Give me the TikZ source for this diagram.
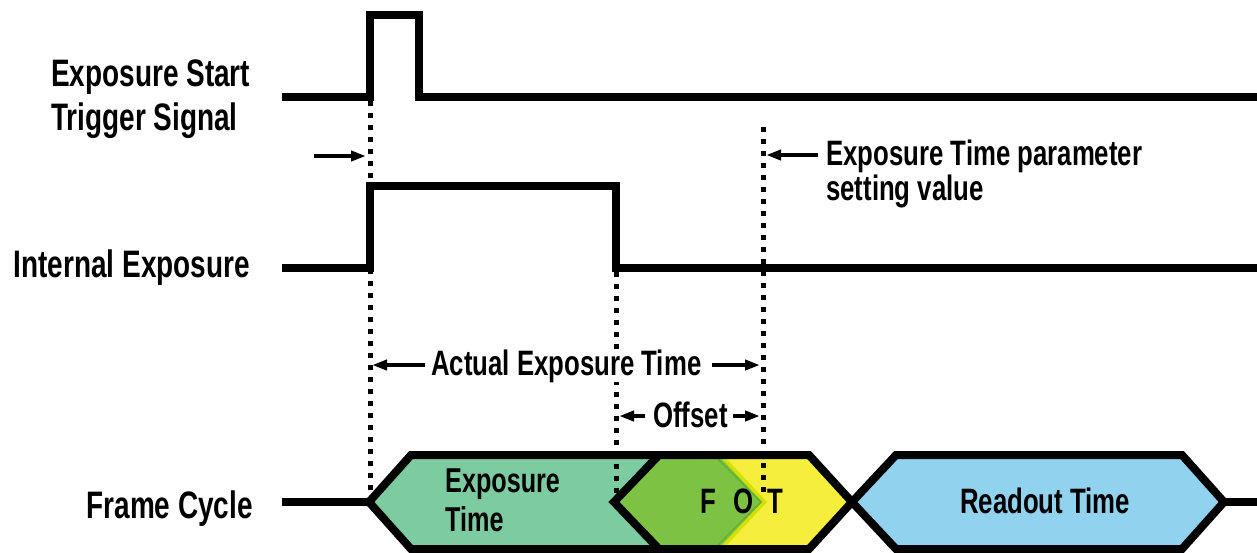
\documentclass[tikz,border=0pt]{standalone}
\usepackage{fontspec}
\setmainfont{Liberation Sans}[UprightFont={* Bold}, FakeStretch=0.73]
\usetikzlibrary{arrows.meta}
\definecolor{expcol}{RGB}{125,203,160}
\definecolor{fotgreen}{RGB}{125,194,66}
\definecolor{fotdark}{RGB}{100,178,50}
\definecolor{fotband}{RGB}{212,224,0}
\definecolor{fotyellow}{RGB}{246,238,60}
\definecolor{readcol}{RGB}{145,210,238}
\begin{document}
\begin{tikzpicture}[x=1pt,y=-1pt,
  sig/.style={line width=8pt, line join=miter},
  hexline/.style={line width=8pt, line join=miter},
  dots/.style={line width=5pt, dash pattern=on 5pt off 7pt},
  arr/.style={line width=4pt, -{Triangle[length=15pt,width=10pt]}},
  lab/.style={inner sep=0pt, font=\fontsize{38.3}{43.3}\selectfont},
  txt/.style={inner sep=0pt, font=\fontsize{35.3}{35}\selectfont}]
\useasboundingbox (0,0) rectangle (1257,552);

% signal coordinates
\coordinate (t0) at (282,97);
\coordinate (t1) at (370,97);
\coordinate (t2) at (370,15);
\coordinate (t3) at (419,15);
\coordinate (t4) at (419,97);
\coordinate (t5) at (1257,97);
\coordinate (i0) at (282,268);
\coordinate (i1) at (370,268);
\coordinate (i2) at (370,186);
\coordinate (i3) at (616,186);
\coordinate (i4) at (616,268);
\coordinate (i5) at (1257,268);

\draw[sig] (t0) -- (t1) -- (t2) -- (t3) -- (t4) -- (t5);
\draw[sig] (i0) -- (i1) -- (i2) -- (i3) -- (i4) -- (i5);

% frame cycle
\coordinate (f0) at (282,502);
\coordinate (eL) at (369,502);
\coordinate (eTL) at (411,455);
\coordinate (eTR) at (700,455);
\coordinate (eR) at (745,502);
\coordinate (eBR) at (700,549);
\coordinate (eBL) at (411,549);

\fill[expcol] (eL) -- (eTL) -- (eTR) -- (eR) -- (eBR) -- (eBL) -- cycle;
\draw[hexline] (f0) -- (eL);
\draw[hexline] (eBR) -- (eBL) -- (eL) -- (eTL) -- (eTR);

\coordinate (oL) at (614,502);
\coordinate (oTL) at (659,455);
\coordinate (oTR) at (809,455);
\coordinate (oR) at (852,502);
\coordinate (oBR) at (809,549);
\coordinate (oBL) at (659,549);
\fill[fotyellow] (oL) -- (oTL) -- (oTR) -- (oR) -- (oBR) -- (oBL) -- cycle;
\fill[fotband] (oL) -- (oTL) -- (723,455) -- (767,502) -- (723,549) -- (oBL) -- cycle;
\fill[fotgreen] (oL) -- (oTL) -- (718,455) -- (762,502) -- (718,549) -- (oBL) -- cycle;
\draw[fotdark, line width=1.5pt] (718,459) -- (761,502) -- (718,545);
\draw[hexline] (oL) -- (oTL) -- (oTR) -- (oR) -- (oBR) -- (oBL) -- cycle;

\coordinate (rL) at (852,502);
\coordinate (rTL) at (896,455);
\coordinate (rTR) at (1182,455);
\coordinate (rR) at (1224,502);
\coordinate (rBR) at (1182,549);
\coordinate (rBL) at (896,549);
\coordinate (r5) at (1257,502);
\filldraw[hexline, fill=readcol] (rL) -- (rTL) -- (rTR) -- (rR) -- (rBR) -- (rBL) -- cycle;
\draw[hexline] (rR) -- (r5);

% dotted guide lines
\coordinate (d1a) at (370,101);
\coordinate (d1b) at (370,492);
\coordinate (d2a) at (616,272);
\coordinate (d2b) at (616,496);
\coordinate (d3a) at (763,127);
\coordinate (d3b) at (763,496);
\draw[dots] (d1a) -- (d1b);
\draw[dots] (d2a) -- (d2b);
\draw[dots] (d3a) -- (d3b);

% labels (multi-line nodes: base = last line)
\node[lab, anchor=base west, align=left] (trig) at (51,130) {Exposure Start\\Trigger Signal};
\node[lab, anchor=base east] (intl) at (250,277) {Internal Exposure};
\node[lab, anchor=base east] (fcl) at (253,518) {Frame Cycle};

\node[txt, anchor=base west, align=left, font=\fontsize{34.5}{39}\selectfont] (expt) at (445,531) {Exposure\\Time};
\node[txt, anchor=base west] (fot) at (700,513) {F\hspace{18pt}O\hspace{13pt}T};
\node[txt, anchor=base west] (rot) at (960,513) {Readout Time};
\node[txt, anchor=base west, fill=white] (act) at (431,375) {Actual Exposure Time};
\node[txt, anchor=base west] (off) at (653,427) {Offset};
\node[txt, anchor=base west, align=left] (etp) at (826,200) {Exposure Time parameter\\setting value};

% arrows
\coordinate (a1s) at (314,156);
\coordinate (a1e) at (366,156);
\coordinate (a2s) at (818,155);
\coordinate (a2e) at (766,155);
\coordinate (a3s) at (425,365);
\coordinate (a3e) at (372,365);
\coordinate (a4s) at (712,365);
\coordinate (a4e) at (760,365);
\coordinate (a5s) at (645,416);
\coordinate (a5e) at (619,416);
\coordinate (a6s) at (733,416);
\coordinate (a6e) at (760,416);
\draw[arr] (a1s) -- (a1e);
\draw[arr] (a2s) -- (a2e);
\draw[arr] (a3s) -- (a3e);
\draw[arr] (a4s) -- (a4e);
\draw[arr] (a5s) -- (a5e);
\draw[arr] (a6s) -- (a6e);
\end{tikzpicture}
\end{document}
